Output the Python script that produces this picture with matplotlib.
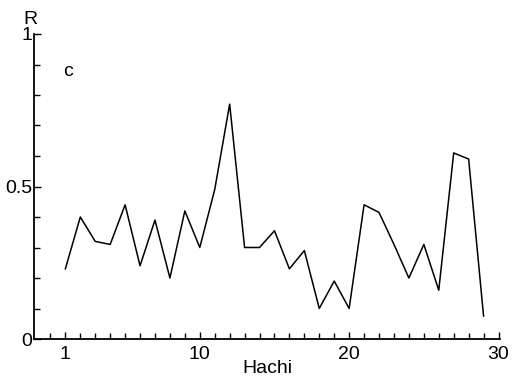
import matplotlib
matplotlib.use("Agg")
import matplotlib.pyplot as plt
import numpy as np

plt.rcParams['font.family'] = ['Liberation Sans', 'DejaVu Sans']

# Hachi number and correlation R
hachi = list(range(1, 30))
r_values = [0.23, 0.40, 0.32, 0.31, 0.44, 0.24, 0.39, 0.20, 0.42, 0.30,
            0.49, 0.77, 0.30, 0.30, 0.355, 0.23, 0.29, 0.10, 0.19, 0.10,
            0.44, 0.415, 0.31, 0.20, 0.31, 0.16, 0.61, 0.59, 0.075]
x_labels = [1, 10, 20, 30]
y_labels = [0, 0.5, 1]

fig = plt.figure(figsize=(5.13, 3.86), dpi=100)
ax = fig.add_axes([34 / 513, 47 / 386, 466 / 513, 305 / 386])

ax.plot(hachi, r_values, color='black', linewidth=1.1)

ax.set_xlim(-1.1, 30.1)
ax.set_ylim(0, 1)
for side in ('top', 'right'):
    ax.spines[side].set_visible(False)
for side in ('left', 'bottom'):
    ax.spines[side].set_linewidth(1.3)

ax.set_xticks(x_labels)
ax.set_xticklabels([str(v) for v in x_labels])
ax.set_xticks(np.arange(0, 31), minor=True)
ax.set_yticks(y_labels)
ax.set_yticklabels(['0', '0.5', '1'])
ax.set_yticks(np.arange(0, 1.01, 0.1), minor=True)
ax.tick_params(which='both', direction='in', width=1.0, labelsize=14)
ax.tick_params(which='major', length=5)
ax.tick_params(which='minor', length=4)
ax.tick_params(axis='x', pad=5)
ax.tick_params(axis='y', pad=1)

ax.set_xlabel('Hachi', fontsize=14, labelpad=-2)
fig.text(30 / 513, 1 - 20 / 386, 'R', fontsize=14, ha='center', va='center')
fig.text(68 / 513, 1 - 72 / 386, 'c', fontsize=14, ha='center', va='center')

fig.savefig('out.png', dpi=100)
